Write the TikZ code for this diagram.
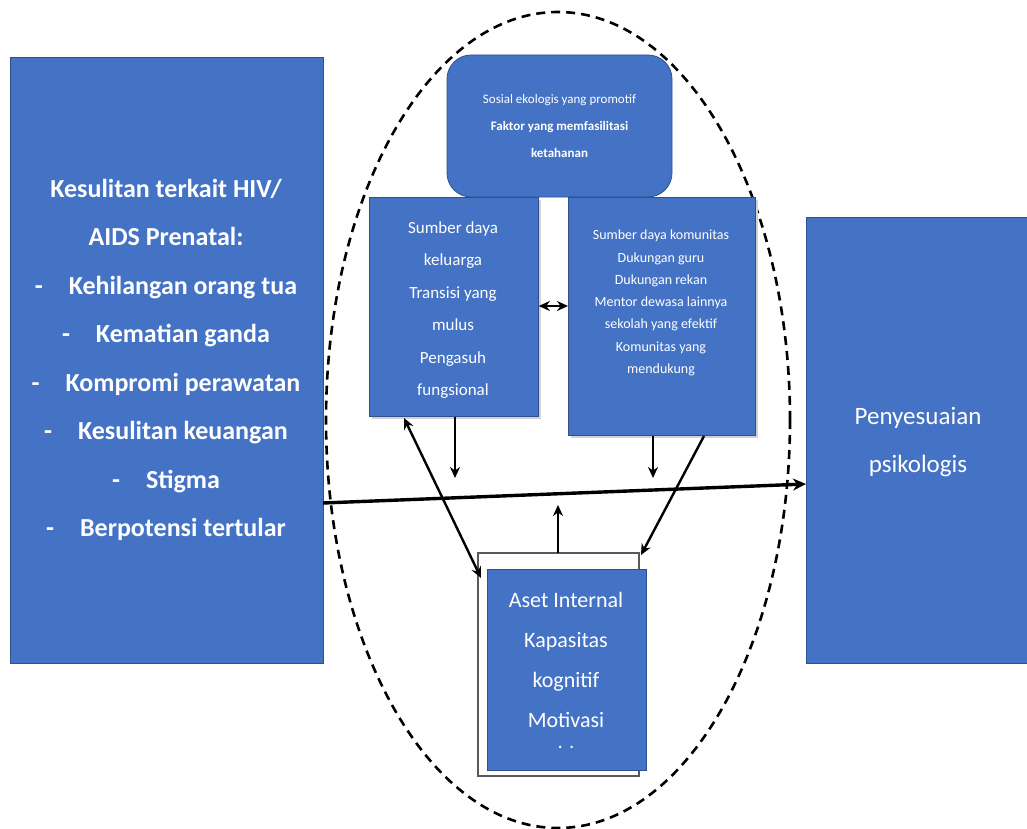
\documentclass[tikz,border=0pt]{standalone}
\usepackage{fontspec}
\setmainfont{Carlito}
\usetikzlibrary{arrows.meta}
\definecolor{boxblue}{HTML}{4472C4}
\definecolor{boxedge}{HTML}{2F4F8F}
\begin{document}
\begin{tikzpicture}[x=1pt,y=-1pt,
  bluebox/.style={draw=boxedge,line width=0.8pt,fill=boxblue,text=white,align=center,inner sep=0pt,anchor=north west},
  arr/.style={line width=2.4pt,-{Stealth[length=11pt,width=10pt]}},
  darr/.style={line width=2.4pt,{Stealth[length=11pt,width=10pt]}-{Stealth[length=11pt,width=10pt]}}]
\useasboundingbox (0,0) rectangle (1027,829);

% dashed resilience boundary
\draw[line width=2.6pt,dash pattern=on 9pt off 6pt] (558,420) ellipse [x radius=232, y radius=408];

% outer boxes
\node[bluebox,minimum width=313pt,minimum height=606pt] (adv) at (10,57) {};
\node[bluebox,minimum width=225pt,minimum height=446pt] (adj) at (806,217) {};

% text of the outer boxes
\node[text=white,align=center,font=\fontsize{26}{48.5}\selectfont\bfseries] at (166,360)
  {Kesulitan terkait HIV/\\
   AIDS Prenatal:\\
   -\quad Kehilangan orang tua\\
   -\quad Kematian ganda\\
   -\quad Kompromi perawatan\\
   -\quad Kesulitan keuangan\\
   -\quad Stigma\\
   -\quad Berpotensi tertular};
\node[text=white,align=center,font=\fontsize{25}{48}\selectfont] at (918,442)
  {Penyesuaian\\psikologis};

% promotive socio-ecological factors
\node[draw=boxedge,line width=0.8pt,fill=boxblue,text=white,align=center,rounded corners=24pt,
  minimum width=225pt,minimum height=142pt,font=\fontsize{13}{27}\selectfont] (soc) at (559.5,126)
  {Sosial ekologis yang promotif\\
   \textbf{Faktor yang memfasilitasi}\\
   \textbf{ketahanan}};

% family resources
\fill[gray!35] (372,200) rectangle (541,419);
\node[bluebox,minimum width=169pt,minimum height=219pt] (fam) at (369,197) {};
\node[text=white,align=center,font=\fontsize{17}{32.5}\selectfont] at (453,310)
  {Sumber daya\\keluarga\\Transisi yang\\mulus\\Pengasuh\\fungsional};

% community resources
\fill[gray!35] (571,200) rectangle (758,438);
\node[bluebox,minimum width=187pt,minimum height=238pt] (com) at (568,197) {};
\node[text=white,align=center,font=\fontsize{14}{22.3}\selectfont] at (661,303)
  {Sumber daya komunitas\\Dukungan guru\\Dukungan rekan\\Mentor dewasa lainnya\\sekolah yang efektif\\Komunitas yang\\mendukung};

% internal assets
\draw[gray!70!black,line width=1.2pt,fill=white] (478,553) rectangle (639,776);
\node[bluebox,minimum width=159pt,minimum height=201pt] (int) at (487,569) {};
\node[text=white,align=center,font=\fontsize{22}{40}\selectfont] at (566,660)
  {Aset Internal\\Kapasitas\\kognitif\\Motivasi};
\node[text=white,font=\fontsize{16}{16}\selectfont\bfseries] at (566,747) {.\ \ .};

% connectors
\coordinate (mainS) at (323,503);
\coordinate (mainE) at (806,484);
\draw[line width=3.4pt,-{Stealth[length=13pt,width=12pt]}] (mainS) -- (mainE);

\draw[darr] (fam.east |- 0,306) -- (com.west |- 0,306);

\coordinate (famD) at (455,478);
\draw[arr] (fam.south -| famD) -- (famD);
\coordinate (comD) at (653,478);
\draw[arr] (com.south -| comD) -- (comD);

\coordinate (intU) at (558,505);
\draw[arr] (558,553) -- (intU);

\draw[darr] (404,418) -- (481,578);
\draw[arr] (704,436) -- (641,555);
\end{tikzpicture}
\end{document}
